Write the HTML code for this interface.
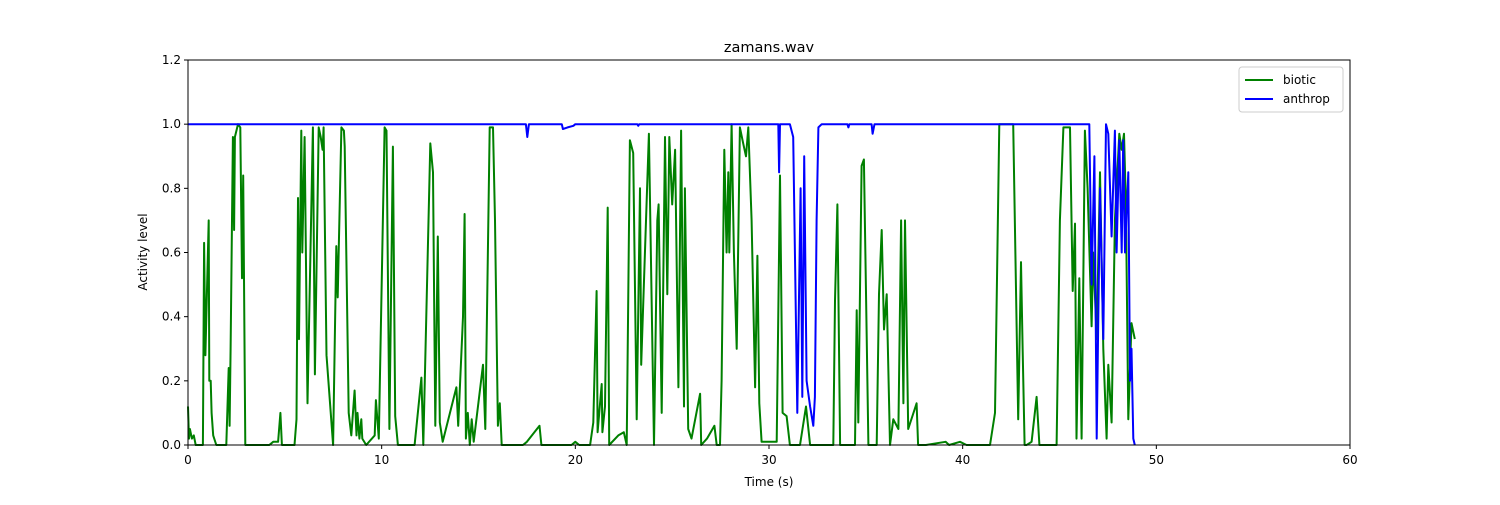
<!DOCTYPE html>
<html><head><meta charset="utf-8"><style>
body{margin:0;background:#fff;}
svg{font-family:"DejaVu Sans","Liberation Sans",sans-serif;}
</style></head><body>
<svg id="c" width="1500" height="500"></svg>
<script>
const xTicks=[0,10,20,30,40,50,60];
const yTicks=[0.0,0.2,0.4,0.6,0.8,1.0,1.2];
const bioticT=[0,0.05,0.1,0.2,0.3,0.4,0.6,0.77,0.83,0.9,1.07,1.1,1.17,1.22,1.3,1.46,1.98,2.1,2.15,2.2,2.32,2.38,2.42,2.58,2.7,2.79,2.85,2.96,4.2,4.4,4.65,4.77,4.85,5.5,5.6,5.68,5.73,5.85,5.9,6.02,6.08,6.17,6.45,6.55,6.75,6.85,6.95,7.0,7.15,7.49,7.66,7.73,7.92,8.05,8.09,8.3,8.43,8.6,8.7,8.75,8.85,8.95,9.0,9.2,9.64,9.7,9.85,10.15,10.25,10.4,10.58,10.7,10.84,11.7,12.05,12.15,12.51,12.65,12.72,12.77,12.9,13.0,13.15,13.86,13.95,14.2,14.28,14.35,14.45,14.55,14.65,14.75,15.23,15.35,15.58,15.75,15.85,16.0,16.1,16.2,17.3,17.5,18.15,18.25,19.8,20.0,20.2,20.76,20.93,21.1,21.15,21.36,21.4,21.53,21.67,21.75,22.22,22.5,22.65,22.82,22.99,23.17,23.34,23.4,23.8,24.06,24.23,24.3,24.46,24.63,24.75,24.85,25.0,25.15,25.32,25.46,25.61,25.66,25.83,26.0,26.44,26.5,26.8,27.18,27.3,27.47,27.55,27.69,27.81,27.9,27.95,28.07,28.19,28.33,28.5,28.67,28.81,28.93,29.1,29.28,29.4,29.5,29.62,30.4,30.57,30.7,30.91,31.08,31.6,31.91,32.12,33.32,33.41,33.53,33.67,34.01,34.44,34.53,34.61,34.78,34.9,35.13,35.56,35.68,35.82,35.94,36.08,36.25,36.42,36.68,36.82,36.94,37.02,37.19,37.62,37.7,38.1,39.12,39.3,39.86,40.2,41.41,41.67,41.89,42.61,42.87,43.01,43.1,43.2,43.3,43.56,43.82,43.96,44.85,45.02,45.2,45.54,45.68,45.8,45.88,46.02,46.14,46.31,46.45,46.66,46.74,46.92,47.09,47.26,47.43,47.52,47.69,47.86,48.09,48.21,48.33,48.43,48.55,48.72,48.89];
const bioticV=[0.12,0.02,0.05,0.02,0.03,0,0,0,0.63,0.28,0.7,0.2,0.2,0.1,0.03,0,0,0.24,0.06,0.3,0.96,0.67,0.96,1.0,0.99,0.52,0.84,0,0,0.01,0.01,0.1,0,0,0.08,0.77,0.33,0.98,0.6,0.96,0.65,0.13,0.99,0.22,0.99,0.96,0.92,0.99,0.28,0,0.62,0.46,0.99,0.98,0.93,0.1,0.03,0.17,0.03,0.1,0.02,0.08,0.02,0,0.03,0.14,0.02,0.99,0.98,0.05,0.93,0.09,0,0,0.21,0,0.94,0.85,0.4,0.06,0.65,0.07,0.01,0.18,0.06,0.4,0.72,0.02,0.1,0,0.08,0.01,0.25,0.05,0.99,0.99,0.7,0.06,0.13,0,0,0.01,0.06,0,0,0.01,0,0,0.07,0.48,0.04,0.19,0.04,0.12,0.74,0,0.03,0.04,0,0.95,0.91,0.08,0.8,0.25,0.97,0,0.7,0.75,0.1,0.96,0.47,0.96,0.75,0.92,0.18,0.98,0.12,0.8,0.05,0.02,0.16,0,0.02,0.06,0,0,0.2,0.92,0.6,0.85,0.6,1.0,0.6,0.3,0.99,0.94,0.9,0.99,0.7,0.18,0.59,0.13,0.01,0.01,0.84,0.1,0.09,0,0,0.12,0,0,0.45,0.75,0,0,0,0.42,0.07,0.87,0.89,0,0,0.47,0.67,0.36,0.47,0,0.08,0.05,0.7,0.13,0.7,0.05,0.13,0,0,0.01,0,0.01,0,0,0.1,1.0,1.0,0.08,0.57,0.29,0,0,0.01,0.15,0,0,0.7,0.99,0.99,0.48,0.69,0.02,0.52,0.02,0.98,0.8,0.37,0.6,0.33,0.85,0.3,0.02,0.25,0.07,0.7,0.97,0.92,0.97,0.75,0.08,0.38,0.33];
const anthropT=[0,17.45,17.52,17.6,19.3,19.36,19.6,19.9,20.0,23.2,23.25,23.3,30.48,30.52,30.57,31.08,31.25,31.46,31.63,31.72,31.82,31.94,32.12,32.29,32.37,32.46,32.55,32.72,34.05,34.1,34.15,35.3,35.35,35.45,46.54,46.66,46.8,46.92,47.09,47.26,47.4,47.52,47.69,47.86,47.95,48.09,48.21,48.29,48.38,48.55,48.64,48.72,48.81,48.89];
const anthropV=[1,1,0.96,1,1,0.985,0.99,0.995,1,1,0.995,1,1,0.85,1,1,0.96,0.1,0.8,0.15,0.9,0.2,0.12,0.06,0.15,0.7,0.99,1,1,0.99,1,1,0.97,1,1,0.5,0.9,0.02,0.8,0.33,1.0,0.97,0.65,0.98,0.6,0.95,0.6,0.95,0.6,0.85,0.2,0.3,0.02,0];
const NS="http://www.w3.org/2000/svg";
const svg=document.getElementById('c');
const L=188,R=1350,T=60,B=445;
const xs=t=>L+(t-0)/60*(R-L);
const ys=v=>B-(v/1.2)*(B-T);
function mk(tag,at,txt){const e=document.createElementNS(NS,tag);for(const k in at)e.setAttribute(k,at[k]);if(txt!==undefined)e.textContent=txt;svg.appendChild(e);return e;}
function line(T_,V_,color,name){let d='';T_.forEach((t,i)=>{d+=(i?'L':'M')+xs(t).toFixed(1)+','+ys(V_[i]).toFixed(1);});
const p=mk('path',{d:d,fill:'none',stroke:color,'stroke-width':2,'stroke-linejoin':'round'});

}
line(bioticT,bioticV,'#008000','biotic-line');
line(anthropT,anthropV,'#0000ff','anthrop-line');
const fr=mk('rect',{x:L,y:T,width:R-L,height:B-T,fill:'none',stroke:'#000','stroke-width':1});


xTicks.forEach(v=>{const x=xs(v);mk('line',{x1:x,x2:x,y1:B,y2:B+4,stroke:'#000'});
const t=mk('text',{x:x,y:B+19,'font-size':12,'text-anchor':'middle'},String(v));

});
yTicks.forEach(v=>{const y=ys(v);mk('line',{x1:L-4,x2:L,y1:y,y2:y,stroke:'#000'});
const t=mk('text',{x:L-7,y:y+4,'font-size':12,'text-anchor':'end'},v.toFixed(1));

});
let e=mk('text',{x:769,y:52,'font-size':14.5,'text-anchor':'middle'},'zamans.wav');


e=mk('text',{x:769,y:486,'font-size':12,'text-anchor':'middle'},'Time (s)');


e=mk('text',{x:147,y:252,'font-size':12,'text-anchor':'middle',transform:'rotate(-90 147 252)'},'Activity level');


e=mk('rect',{x:1239,y:67,width:104,height:45,rx:3,fill:'#fff',stroke:'#ccc'});


[['biotic','#008000',80],['anthrop','#0000ff',99]].forEach(([n,c,y])=>{
mk('line',{x1:1245,x2:1273,y1:y,y2:y,stroke:c,'stroke-width':2});
const t=mk('text',{x:1283,y:y+4,'font-size':12},n);

});
</script>
</body></html>
